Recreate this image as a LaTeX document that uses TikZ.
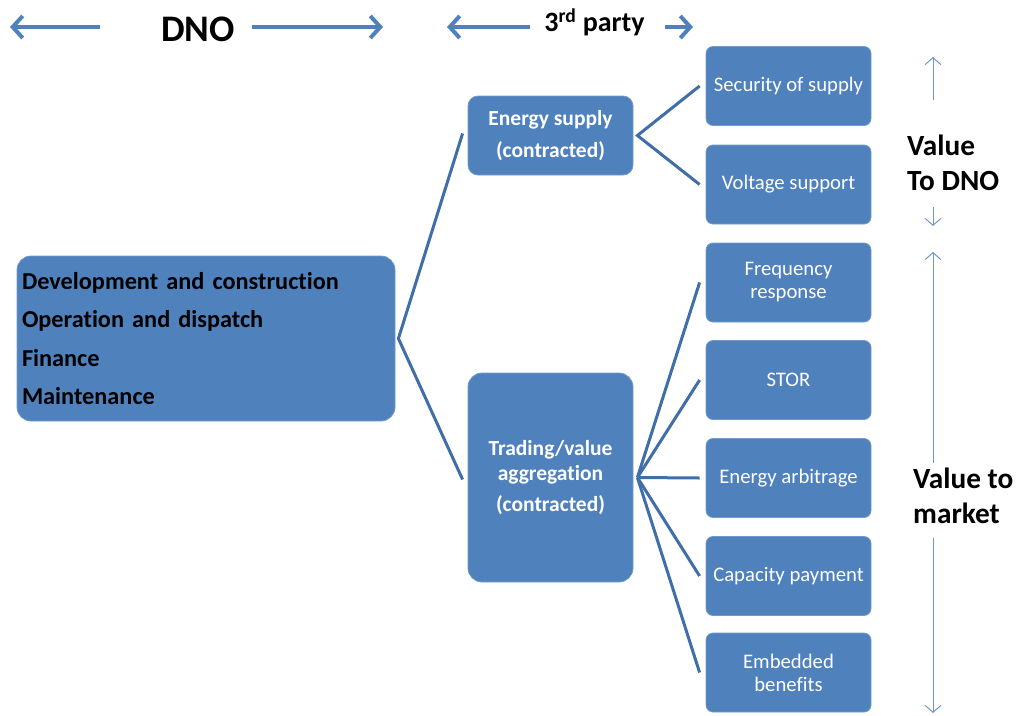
\documentclass[tikz,border=0pt]{standalone}
\usepackage{fontspec}
\setmainfont{Carlito}[Ligatures=NoCommon]
\usetikzlibrary{arrows.meta}
\definecolor{boxblue}{HTML}{4F81BD}
\definecolor{linkblue}{HTML}{3F6EA8}
\definecolor{thinblue}{HTML}{6E98CC}
\tikzset{
  box/.style={fill=boxblue, draw=boxblue!80!white, line width=0.8pt, rounded corners=7pt,
    minimum width=165pt, minimum height=79pt, text=white, align=center, inner sep=0pt,
    font=\fontsize{20.7}{23}\selectfont},
  midbox/.style={box, font=\bfseries\fontsize{21.5}{32}\selectfont, rounded corners=10pt},
  link/.style={draw=linkblue, line width=3pt},
  bigarrow/.style={draw=boxblue, line width=4pt, -{Straight Barb[length=10pt,width=22pt,line width=4pt]}},
  thinarrow/.style={draw=thinblue, line width=1pt, -{Straight Barb[length=7pt,width=16pt]}},
  label/.style={inner sep=0pt, font=\bfseries\fontsize{29.3}{35}\selectfont, align=left}
}
\begin{document}
\begin{tikzpicture}[x=1pt,y=-1pt]
\useasboundingbox (0,0) rectangle (1016,715);

% header
\node[inner sep=0pt, font=\bfseries\fontsize{37.5}{40}\selectfont] (dno) at (198,29) {DNO};
\node[inner sep=0pt, font=\bfseries\fontsize{28}{30}\selectfont] (third) at (594.5,22) {3\textsuperscript{rd} party};
\coordinate (dnoL) at (10,27);
\coordinate (dnoR) at (383,27);
\coordinate (thL) at (447,27);
\coordinate (thR) at (693,27);
\draw[bigarrow] (100,27) -- (dnoL);
\draw[bigarrow] (252,27) -- (dnoR);
\draw[bigarrow] (530,27) -- (thL);
\draw[bigarrow] (665,27) -- (thR);

% main boxes
\node[box, minimum width=378pt, minimum height=165pt, rounded corners=14pt, text=black,
      align=left, text width=368pt, font=\bfseries\fontsize{24.3}{38.5}\selectfont]
  (dev) at (206,338.5) {Development and construction\\Operation and dispatch\\Finance\\Maintenance};
\node[midbox] (es) at (550.5,135.5) {Energy supply\\(contracted)};
\node[midbox, minimum height=209pt, rounded corners=14pt] (tr) at (550.5,477.5)
  {Trading/value\\[-7pt]aggregation\\[-1pt](contracted)};

% service boxes
\node[box] (sec) at (788.5,86) {Security of supply};
\node[box] (volt) at (788.5,184.5) {Voltage support};
\node[box] (freq) at (788.5,282.5) {Frequency\\response};
\node[box] (stor) at (788.5,380) {STOR};
\node[box] (arb) at (788.5,478) {Energy arbitrage};
\node[box] (cap) at (788.5,576) {Capacity payment};
\node[box] (emb) at (788.5,672.5) {Embedded\\benefits};

% connectors
\coordinate (j1) at ([xshift=3pt]dev.east);
\coordinate (j2) at ([xshift=4pt]es.east);
\coordinate (j3) at ([xshift=4pt]tr.east);
\draw[link] ([xshift=-5pt,yshift=2pt]es.west) -- (j1) -- ([xshift=-5pt,yshift=-2pt]tr.west);
\draw[link] ([xshift=-6pt]sec.west) -- (j2) -- ([xshift=-6pt]volt.west);
\foreach \b in {freq,stor,arb,cap,emb}
  \draw[link] (j3) -- ([xshift=-6pt]\b.west);

% value ranges
\node[label, anchor=west] (vdno) at (907,162.5) {Value\\To DNO};
\node[label, anchor=west] (vmkt) at (913,495.5) {Value to\\market};
\coordinate (a1) at (933,57);
\coordinate (a2) at (933,226);
\coordinate (a3) at (933,252);
\coordinate (a4) at (933,713);
\draw[thinarrow] (933,100) -- (a1);
\draw[thinarrow] (933,207) -- (a2);
\draw[thinarrow] (933,463) -- (a3);
\draw[thinarrow] (933,538) -- (a4);
\end{tikzpicture}
\end{document}
